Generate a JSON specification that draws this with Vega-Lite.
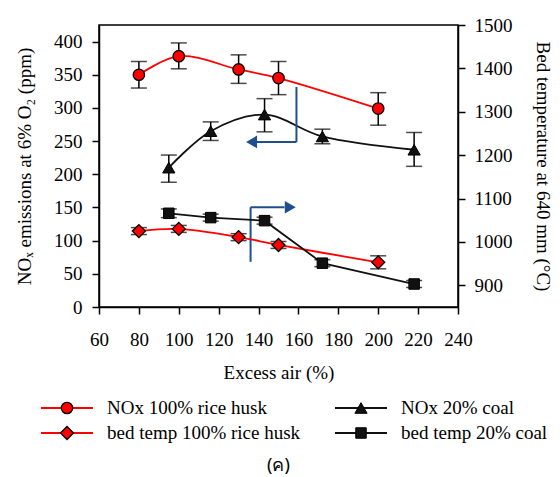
{
  "$schema": "https://vega.github.io/schema/vega-lite/v6.json",
  "width": 359,
  "height": 282,
  "padding": {"left": 15, "top": 16, "right": 4, "bottom": 0},
  "background": "white",
  "title": {"text": "(ค)", "orient": "bottom", "font": "Noto Sans", "fontSize": 18, "fontWeight": "normal", "color": "black", "offset": 14},
  "config": {
    "font": "Liberation Serif",
    "view": {"stroke": "black", "strokeWidth": 1.5},
    "axis": {
      "domainColor": "black", "tickColor": "black", "labelColor": "black", "titleColor": "black",
      "labelFont": "Liberation Serif", "titleFont": "Liberation Serif",
      "labelFontSize": 19, "titleFontSize": 19, "titleFontWeight": "normal",
      "tickSize": 7, "domainWidth": 1.5, "tickWidth": 1.5, "grid": false,
      "labelFlush": false, "labelOverlap": false
    }
  },
  "datasets": {
    "nox": [
      {"series": "NOx 100% rice husk", "air": 80, "nox": 350, "lo": 330, "hi": 370},
      {"series": "NOx 100% rice husk", "air": 100, "nox": 378, "lo": 359, "hi": 398},
      {"series": "NOx 100% rice husk", "air": 130, "nox": 358, "lo": 337, "hi": 380},
      {"series": "NOx 100% rice husk", "air": 150, "nox": 345, "lo": 320, "hi": 370},
      {"series": "NOx 100% rice husk", "air": 200, "nox": 299, "lo": 274, "hi": 323},
      {"series": "NOx  20% coal", "air": 95, "nox": 210, "lo": 188, "hi": 229},
      {"series": "NOx  20% coal", "air": 116, "nox": 265, "lo": 251, "hi": 279},
      {"series": "NOx  20% coal", "air": 143, "nox": 290, "lo": 264, "hi": 314},
      {"series": "NOx  20% coal", "air": 172, "nox": 257, "lo": 246, "hi": 268},
      {"series": "NOx  20% coal", "air": 218, "nox": 237, "lo": 212, "hi": 263}
    ],
    "bed": [
      {"series": "bed temp 100% rice husk", "air": 80, "temp": 1025, "lo": 1017, "hi": 1033},
      {"series": "bed temp 100% rice husk", "air": 100, "temp": 1030, "lo": 1022, "hi": 1038},
      {"series": "bed temp 100% rice husk", "air": 130, "temp": 1011, "lo": 1003, "hi": 1019},
      {"series": "bed temp 100% rice husk", "air": 150, "temp": 993, "lo": 985, "hi": 1001},
      {"series": "bed temp 100% rice husk", "air": 200, "temp": 953, "lo": 938, "hi": 968},
      {"series": "bed temp 20% coal", "air": 95, "temp": 1066, "lo": 1056, "hi": 1076},
      {"series": "bed temp 20% coal", "air": 116, "temp": 1056, "lo": 1048, "hi": 1064},
      {"series": "bed temp 20% coal", "air": 143, "temp": 1049, "lo": 1041, "hi": 1057},
      {"series": "bed temp 20% coal", "air": 172, "temp": 951, "lo": 943, "hi": 959},
      {"series": "bed temp 20% coal", "air": 218, "temp": 903, "lo": 895, "hi": 911}
    ],
    "arrows": [
      {"x": 159, "y": 331.6, "x2": 159, "y2": 248.8},
      {"x": 159, "y": 248.8, "x2": 139, "y2": 248.8},
      {"x": 136, "y": 68.1, "x2": 136, "y2": 150.3},
      {"x": 136, "y": 150.3, "x2": 153, "y2": 150.3}
    ],
    "heads": [
      {"x": 136.5, "y": 248.8, "dir": "left"},
      {"x": 155.9, "y": 150.3, "dir": "right"}
    ],
    "legendItems": [
      {"series": "NOx 100% rice husk", "col": 0, "row": 0},
      {"series": "NOx  20% coal", "col": 1, "row": 0},
      {"series": "bed temp 100% rice husk", "col": 0, "row": 1},
      {"series": "bed temp 20% coal", "col": 1, "row": 1}
    ]
  },
  "layer": [
    {
      "data": {"name": "nox"},
      "encoding": {
        "x": {"field": "air", "type": "quantitative", "scale": {"domain": [60, 240], "nice": false},
              "axis": {"values": [60, 80, 100, 120, 140, 160, 180, 200, 220, 240], "title": "Excess air (%)", "labelPadding": 16, "titlePadding": 14}},
        "y": {"field": "nox", "type": "quantitative", "scale": {"domain": [0, 425], "nice": false},
              "axis": {"values": [0, 50, 100, 150, 200, 250, 300, 350, 400], "title": "NOₓ emissions at 6% O₂ (ppm)", "labelPadding": 10, "titlePadding": 19}}
      },
      "layer": [
        {"mark": {"type": "line", "interpolate": "catmull-rom", "strokeWidth": 1.8},
         "encoding": {"color": {"field": "series", "type": "nominal", "legend": null,
           "scale": {"domain": ["NOx 100% rice husk", "NOx  20% coal", "bed temp 100% rice husk", "bed temp 20% coal"], "range": ["#ff0000", "#111111", "#ff0000", "#111111"]}}}},
        {"mark": {"type": "rule", "color": "black", "strokeWidth": 1.5},
         "encoding": {"y": {"field": "lo", "type": "quantitative"}, "y2": {"field": "hi"}}},
        {"mark": {"type": "tick", "orient": "horizontal", "size": 16, "thickness": 1.5, "color": "black"},
         "encoding": {"y": {"field": "lo", "type": "quantitative"}}},
        {"mark": {"type": "tick", "orient": "horizontal", "size": 16, "thickness": 1.5, "color": "black"},
         "encoding": {"y": {"field": "hi", "type": "quantitative"}}},
        {"transform": [{"filter": "datum.series == 'NOx 100% rice husk'"}],
         "mark": {"type": "point", "shape": "circle", "filled": true, "opacity": 1, "size": 130, "fill": "#ff0000", "stroke": "black", "strokeWidth": 1.3}},
        {"transform": [{"filter": "datum.series == 'NOx  20% coal'"}],
         "mark": {"type": "point", "shape": "triangle-up", "filled": true, "opacity": 1, "size": 150, "fill": "#111111", "stroke": "black", "strokeWidth": 1}},
        {"data": {"name": "arrows"},
         "mark": {"type": "rule", "color": "#1f4e8c", "strokeWidth": 2},
         "encoding": {"x": {"field": "x", "type": "quantitative"}, "y": {"field": "y", "type": "quantitative"}, "x2": {"field": "x2"}, "y2": {"field": "y2"}}},
        {"data": {"name": "heads"}, "transform": [{"filter": "datum.dir == 'left'"}],
         "mark": {"type": "point", "shape": "triangle-left", "filled": true, "opacity": 1, "size": 160, "color": "#1f4e8c"},
         "encoding": {"x": {"field": "x", "type": "quantitative"}, "y": {"field": "y", "type": "quantitative"}}},
        {"data": {"name": "heads"}, "transform": [{"filter": "datum.dir == 'right'"}],
         "mark": {"type": "point", "shape": "triangle-right", "filled": true, "opacity": 1, "size": 160, "color": "#1f4e8c"},
         "encoding": {"x": {"field": "x", "type": "quantitative"}, "y": {"field": "y", "type": "quantitative"}}}
      ]
    },
    {
      "data": {"name": "bed"},
      "encoding": {
        "x": {"field": "air", "type": "quantitative", "scale": {"domain": [60, 240], "nice": false}, "axis": null},
        "y": {"field": "temp", "type": "quantitative", "scale": {"domain": [850, 1500], "nice": false, "zero": false},
              "axis": {"orient": "right", "format": "d", "values": [900, 1000, 1100, 1200, 1300, 1400, 1500], "title": "Bed temperature at 640 mm (°C)", "labelPadding": 9, "titlePadding": 20}}
      },
      "layer": [
        {"transform": [{"filter": "datum.series == 'bed temp 100% rice husk'"}],
         "mark": {"type": "line", "interpolate": "catmull-rom", "strokeWidth": 1.8, "color": "#ff0000"}},
        {"transform": [{"filter": "datum.series == 'bed temp 20% coal'"}],
         "mark": {"type": "line", "strokeWidth": 1.8, "color": "#111111"}},
        {"mark": {"type": "rule", "color": "black", "strokeWidth": 1.5},
         "encoding": {"y": {"field": "lo", "type": "quantitative"}, "y2": {"field": "hi"}}},
        {"mark": {"type": "tick", "orient": "horizontal", "size": 16, "thickness": 1.5, "color": "black"},
         "encoding": {"y": {"field": "lo", "type": "quantitative"}}},
        {"mark": {"type": "tick", "orient": "horizontal", "size": 16, "thickness": 1.5, "color": "black"},
         "encoding": {"y": {"field": "hi", "type": "quantitative"}}},
        {"transform": [{"filter": "datum.series == 'bed temp 100% rice husk'"}],
         "mark": {"type": "point", "shape": "diamond", "filled": true, "opacity": 1, "size": 170, "fill": "#ff0000", "stroke": "black", "strokeWidth": 1.3}},
        {"transform": [{"filter": "datum.series == 'bed temp 20% coal'"}],
         "mark": {"type": "point", "shape": "square", "filled": true, "opacity": 1, "size": 110, "fill": "#111111", "stroke": "black", "strokeWidth": 1}}
      ]
    },
    {
      "data": {"name": "legendItems"},
      "encoding": {
        "x": {"field": "col", "type": "quantitative", "scale": {"domain": [0, 1], "range": [-58, 236], "nice": false, "zero": false}, "axis": null},
        "y": {"field": "row", "type": "quantitative", "scale": {"domain": [0, 1], "range": [383, 408], "nice": false, "zero": false}, "axis": null}
      },
      "layer": [
        {"mark": {"type": "rule", "strokeWidth": 2, "x2Offset": 52},
         "encoding": {"x2": {"field": "col"}, "color": {"field": "series", "type": "nominal", "legend": null}}},
        {"transform": [{"filter": "datum.series == 'NOx 100% rice husk'"}],
         "mark": {"type": "point", "shape": "circle", "filled": true, "opacity": 1, "size": 130, "fill": "#ff0000", "stroke": "black", "strokeWidth": 1.3, "xOffset": 26}},
        {"transform": [{"filter": "datum.series == 'NOx  20% coal'"}],
         "mark": {"type": "point", "shape": "triangle-up", "filled": true, "opacity": 1, "size": 150, "fill": "#111111", "stroke": "black", "strokeWidth": 1, "xOffset": 26}},
        {"transform": [{"filter": "datum.series == 'bed temp 100% rice husk'"}],
         "mark": {"type": "point", "shape": "diamond", "filled": true, "opacity": 1, "size": 170, "fill": "#ff0000", "stroke": "black", "strokeWidth": 1.3, "xOffset": 26}},
        {"transform": [{"filter": "datum.series == 'bed temp 20% coal'"}],
         "mark": {"type": "point", "shape": "square", "filled": true, "opacity": 1, "size": 110, "fill": "#111111", "stroke": "black", "strokeWidth": 1, "xOffset": 26}},
        {"mark": {"type": "text", "align": "left", "baseline": "middle", "xOffset": 66, "font": "Liberation Serif", "fontSize": 19, "color": "black"},
         "encoding": {"text": {"field": "series"}}}
      ]
    }
  ],
  "resolve": {"scale": {"x": "independent", "y": "independent"}}
}
